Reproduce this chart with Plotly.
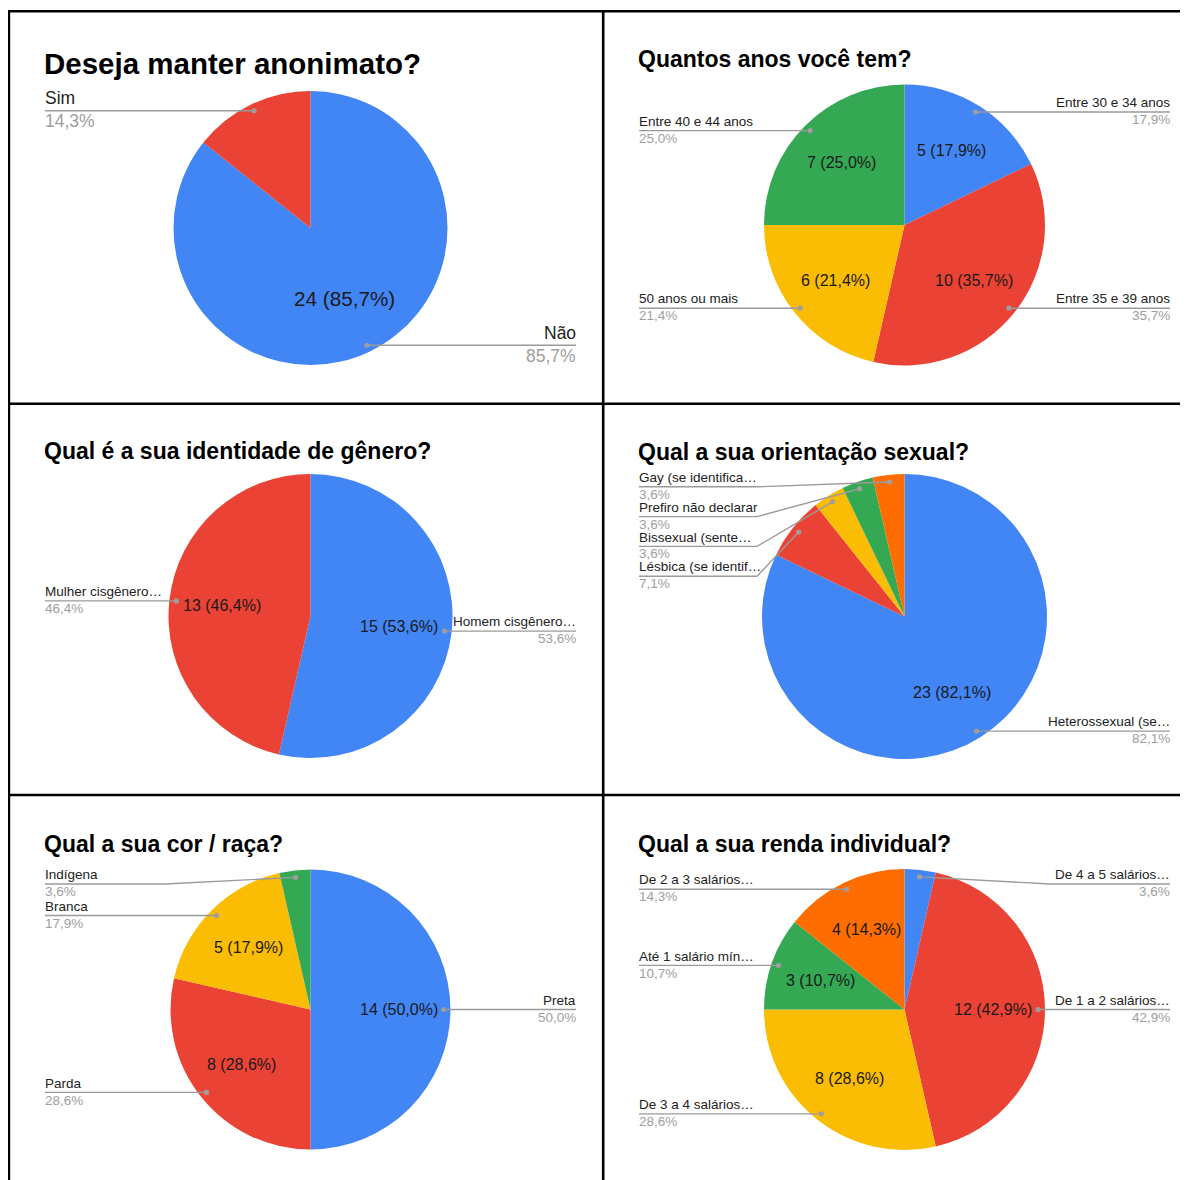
import math
import plotly.graph_objects as go

# ---------------- data ----------------
anon_title = "Deseja manter anonimato?"
anon_labels = ["Não", "Sim"]
anon_values = [24, 4]

age_title = "Quantos anos você tem?"
age_labels = ["Entre 30 e 34 anos", "Entre 35 e 39 anos", "50 anos ou mais", "Entre 40 e 44 anos"]
age_values = [5, 10, 6, 7]

gender_title = "Qual é a sua identidade de gênero?"
gender_labels = ["Homem cisgênero…", "Mulher cisgênero…"]
gender_values = [15, 13]

orient_title = "Qual a sua orientação sexual?"
orient_labels = ["Heterossexual (se…", "Lésbica (se identif…", "Bissexual (sente…",
                 "Prefiro não declarar", "Gay (se identifica…"]
orient_values = [23, 2, 1, 1, 1]

race_title = "Qual a sua cor / raça?"
race_labels = ["Preta", "Parda", "Branca", "Indígena"]
race_values = [14, 8, 5, 1]

income_title = "Qual a sua renda individual?"
income_labels = ["De 4 a 5 salários…", "De 1 a 2 salários…", "De 3 a 4 salários…",
                 "Até 1 salário mín…", "De 2 a 3 salários…"]
income_values = [1, 12, 8, 3, 4]

# ---------------- style / layout ----------------
PAGE_OFF = 8            # default page margin around the plot div
W, H = 1180, 1172       # figure size (page coords 8..1188, 8..1180)
FONT = "Liberation Sans, Arial, sans-serif"
BLUE, RED, YELLOW, GREEN, ORANGE = "#4285F4", "#EA4335", "#FBBC04", "#34A853", "#FF6D01"
NAME_COLOR, PCT_COLOR, LINE_COLOR, DOT_COLOR = "#222222", "#9E9E9E", "#9A9A9A", "#9E9E9E"


def fx(x):
    return (x - PAGE_OFF) / W


def fy(y):
    return 1 - (y - PAGE_OFF) / H


small = dict(title_fs=23, label_fs=13.5, inside_fs=16, inside_frac=0.63, name_off=-9.4, pct_off=7.6)
big = dict(title_fs=29.5, label_fs=17.5, inside_fs=20.7, inside_frac=0.57, name_off=-12.4, pct_off=10.4)

panels = [
    dict(title=anon_title, labels=anon_labels, values=anon_values, colors=[BLUE, RED],
         cx=310.5, cy=228, r=137, title_y=63.5, left_x=45, right_x=576,
         show_inside=[True, False],
         legend=[dict(side="right"), dict(side="left")], **big),
    dict(title=age_title, labels=age_labels, values=age_values, colors=[BLUE, RED, YELLOW, GREEN],
         cx=904.5, cy=225, r=140.5, title_y=59.5, left_x=639, right_x=1170,
         show_inside=[True, True, True, True],
         legend=[dict(side="right"), dict(side="right"), dict(side="left"), dict(side="left")], **small),
    dict(title=gender_title, labels=gender_labels, values=gender_values, colors=[BLUE, RED],
         cx=310.5, cy=616, r=142, title_y=451, left_x=45, right_x=576,
         show_inside=[True, True],
         legend=[dict(side="right"), dict(side="left")], **small),
    dict(title=orient_title, labels=orient_labels, values=orient_values,
         colors=[BLUE, RED, YELLOW, GREEN, ORANGE],
         cx=904.5, cy=616.5, r=142.5, title_y=451.5, left_x=639, right_x=1170,
         show_inside=[True, False, False, False, False],
         legend=[dict(side="right"),
                 dict(side="left", line_y=576.2, elbow=757),
                 dict(side="left", line_y=546.4, elbow=757),
                 dict(side="left", line_y=516.6, elbow=757),
                 dict(side="left", line_y=486.8, elbow=757)], **small),
    dict(title=race_title, labels=race_labels, values=race_values, colors=[BLUE, RED, YELLOW, GREEN],
         cx=310.5, cy=1009.5, r=140, title_y=844, left_x=45, right_x=576,
         show_inside=[True, True, True, False],
         legend=[dict(side="right"), dict(side="left"), dict(side="left"),
                 dict(side="left", line_y=884, elbow=165)], **small),
    dict(title=income_title, labels=income_labels, values=income_values,
         colors=[BLUE, RED, YELLOW, GREEN, ORANGE],
         cx=904.5, cy=1009.5, r=140.5, title_y=844, left_x=639, right_x=1170,
         show_inside=[False, True, True, True, True],
         legend=[dict(side="right", line_y=884, elbow=1050), dict(side="right"), dict(side="left"),
                 dict(side="left"), dict(side="left")], **small),
]

fig = go.Figure()
shapes = []
annotations = []


def pct_text(v, total):
    return f"{v / total * 100:.1f}".replace(".", ",") + "%"


for p in panels:
    cx, cy, r = p["cx"], p["cy"], p["r"]
    vals = p["values"]
    total = sum(vals)
    fig.add_trace(go.Pie(
        labels=p["labels"], values=vals, sort=False, direction="clockwise", rotation=0,
        marker=dict(colors=p["colors"], line=dict(width=0)),
        textinfo="none", hoverinfo="skip", showlegend=False,
        domain=dict(x=[fx(cx - r), fx(cx + r)], y=[fy(cy + r), fy(cy - r)]),
    ))
    # title
    annotations.append(dict(x=fx(p["left_x"]), y=fy(p["title_y"]), xref="paper", yref="paper",
                            text=f"<b>{p['title']}</b>", showarrow=False, xanchor="left",
                            yanchor="middle", xshift=-2, borderpad=0,
                            font=dict(family=FONT, size=p["title_fs"], color="#000000")))
    cum = 0
    for i, v in enumerate(vals):
        theta = (cum + v / 2) / total * 2 * math.pi
        cum += v
        s, c = math.sin(theta), math.cos(theta)
        # inside label
        if p["show_inside"][i]:
            tx = cx + p["inside_frac"] * r * s
            ty = cy - p["inside_frac"] * r * c
            annotations.append(dict(x=fx(tx), y=fy(ty), xref="paper", yref="paper",
                                    text=f"{v} ({pct_text(v, total)})", showarrow=False,
                                    xanchor="center", yanchor="middle",
                                    font=dict(family=FONT, size=p["inside_fs"], color="#1A1A1A")))
        # leader dot
        dx = cx + 0.95 * r * s
        dy = cy - 0.95 * r * c
        lg = p["legend"][i]
        ly = lg.get("line_y", None)
        if ly is None:
            ly = dy
        elbow = lg.get("elbow", None)
        if lg["side"] == "left":
            x_end = p["left_x"]
            anchor = "left"
            xs = -1.5
        else:
            x_end = p["right_x"]
            anchor = "right"
            xs = 1
        if elbow is None:
            path = f"M {fx(x_end)},{fy(ly)} L {fx(dx)},{fy(dy)}"
        else:
            path = f"M {fx(x_end)},{fy(ly)} L {fx(elbow)},{fy(ly)} L {fx(dx)},{fy(dy)}"
        shapes.append(dict(type="path", path=path, xref="paper", yref="paper", layer="above",
                           line=dict(color=LINE_COLOR, width=1.4)))
        rd = 2.6
        shapes.append(dict(type="circle", xref="paper", yref="paper", layer="above",
                           x0=fx(dx - rd), x1=fx(dx + rd), y0=fy(dy + rd), y1=fy(dy - rd),
                           fillcolor=DOT_COLOR, line=dict(width=0)))
        annotations.append(dict(x=fx(x_end), y=fy(ly + p["name_off"]), xref="paper", yref="paper",
                                text=p["labels"][i], showarrow=False, xanchor=anchor, yanchor="middle",
                                borderpad=0, xshift=xs,
                                font=dict(family=FONT, size=p["label_fs"], color=NAME_COLOR)))
        annotations.append(dict(x=fx(x_end), y=fy(ly + p["pct_off"]), xref="paper", yref="paper",
                                text=pct_text(v, total), showarrow=False, xanchor=anchor, yanchor="middle",
                                borderpad=0, xshift=xs,
                                font=dict(family=FONT, size=p["label_fs"], color=PCT_COLOR)))

# grid borders (page pixel coordinates)
BW = 2.6
border_lines = [
    (8, 11.3, 1188, 11.3),
    (8.9, 11.3, 8.9, 1180),
    (603.2, 11.3, 603.2, 1180),
    (8, 403.7, 1188, 403.7),
    (8, 795, 1188, 795),
]
for x0, y0, x1, y1 in border_lines:
    shapes.append(dict(type="line", xref="paper", yref="paper", layer="above",
                       x0=fx(x0), y0=fy(y0), x1=fx(x1), y1=fy(y1),
                       line=dict(color="#000000", width=BW)))

fig.update_layout(
    width=W, height=H, margin=dict(l=0, r=0, t=0, b=0),
    paper_bgcolor="#FFFFFF", plot_bgcolor="#FFFFFF",
    shapes=shapes, annotations=annotations, showlegend=False,
    font=dict(family=FONT),
)

fig.write_html("out.html")
